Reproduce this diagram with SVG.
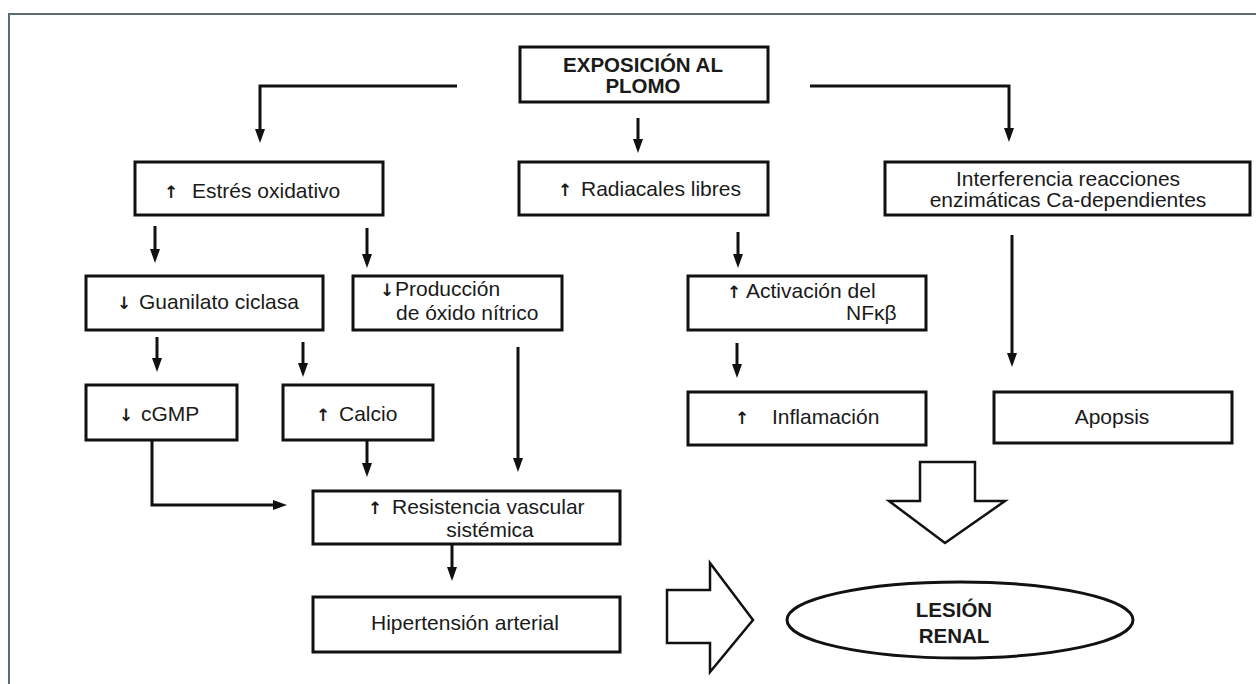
<svg xmlns="http://www.w3.org/2000/svg" width="1256" height="684" viewBox="0 0 1256 684">
<defs>
<style>
.box{fill:#fff;stroke:#111;stroke-width:3}
.t{font-family:"Liberation Sans",Arial,sans-serif;font-size:21px;fill:#1a1a1a}
.b{font-family:"Liberation Sans",Arial,sans-serif;font-size:20.5px;font-weight:bold;fill:#1a1a1a}
.c{text-anchor:middle}
.ar{font-family:"DejaVu Sans",sans-serif;font-size:17px;font-weight:bold;fill:#1a1a1a}
.con{fill:none;stroke:#111;stroke-width:3}
.blk{fill:#fff;stroke:#111;stroke-width:2.5;stroke-linejoin:miter}
</style>
<marker id="ah" viewBox="0 0 14 10" refX="8" refY="5" markerWidth="14" markerHeight="10" markerUnits="userSpaceOnUse" orient="auto">
<path d="M0,0 L14,5 L0,10 z" fill="#111"/>
</marker>
</defs>
<rect width="1256" height="684" fill="#fff"/>
<path d="M9,684 V14 H1256" fill="none" stroke="#5c6b72" stroke-width="2"/>

<g id="connectors">
<path class="con" d="M457,86 H260 V137" marker-end="url(#ah)"/>
<path class="con" d="M810,86 H1009 V136" marker-end="url(#ah)"/>
<path class="con" d="M638,118 V147" marker-end="url(#ah)"/>
<path class="con" d="M155,226 V257" marker-end="url(#ah)"/>
<path class="con" d="M367,228 V262" marker-end="url(#ah)"/>
<path class="con" d="M738,232 V262" marker-end="url(#ah)"/>
<path class="con" d="M1012,235 V361" marker-end="url(#ah)"/>
<path class="con" d="M157,337 V366" marker-end="url(#ah)"/>
<path class="con" d="M303,342 V371" marker-end="url(#ah)"/>
<path class="con" d="M518,347 V466" marker-end="url(#ah)"/>
<path class="con" d="M737,343 V372" marker-end="url(#ah)"/>
<path class="con" d="M152,440 V505 H281" marker-end="url(#ah)"/>
<path class="con" d="M367,440 V471" marker-end="url(#ah)"/>
<path class="con" d="M452,544 V575" marker-end="url(#ah)"/>
</g>

<g id="exposicion">
<rect class="box" x="520" y="47" width="248" height="55"/>
<text class="b c" x="643" y="72">EXPOSICIÓN AL</text>
<text class="b c" x="643" y="93">PLOMO</text>
</g>

<g id="estres">
<rect class="box" x="135" y="162" width="248" height="53"/>
<text class="t" x="164" y="198"><tspan class="ar">↑</tspan><tspan x="192">Estrés oxidativo</tspan></text>
</g>

<g id="radicales">
<rect class="box" x="519" y="162" width="249" height="53"/>
<text class="t" x="558" y="196"><tspan class="ar">↑</tspan><tspan x="581">Radiacales libres</tspan></text>
</g>

<g id="interferencia">
<rect class="box" x="885" y="162" width="365" height="53"/>
<text class="t c" x="1068" y="186">Interferencia reacciones</text>
<text class="t c" x="1068" y="207">enzimáticas Ca-dependientes</text>
</g>

<g id="guanilato">
<rect class="box" x="86" y="276" width="237" height="54"/>
<text class="t" x="117" y="309"><tspan class="ar">↓</tspan><tspan x="139">Guanilato ciclasa</tspan></text>
</g>

<g id="produccion">
<rect class="box" x="353" y="276" width="209" height="54"/>
<text class="t" x="380" y="296"><tspan class="ar">↓</tspan><tspan x="395">Producción</tspan></text>
<text class="t" x="396" y="320">de óxido nítrico</text>
</g>

<g id="cgmp">
<rect class="box" x="86" y="385" width="151" height="55"/>
<text class="t" x="119" y="421"><tspan class="ar">↓</tspan><tspan x="141">cGMP</tspan></text>
</g>

<g id="calcio">
<rect class="box" x="283" y="385" width="150" height="55"/>
<text class="t" x="316" y="421"><tspan class="ar">↑</tspan><tspan x="339">Calcio</tspan></text>
</g>

<g id="activacion">
<rect class="box" x="688" y="276" width="238" height="54"/>
<text class="t" x="727" y="298"><tspan class="ar">↑</tspan><tspan x="746">Activación del</tspan></text>
<text class="t" x="846" y="320">NFκβ</text>
</g>

<g id="inflamacion">
<rect class="box" x="688" y="392" width="238" height="53"/>
<text class="t" x="735" y="424"><tspan class="ar">↑</tspan><tspan x="772">Inflamación</tspan></text>
</g>

<g id="apopsis">
<rect class="box" x="994" y="392" width="238" height="51"/>
<text class="t c" x="1112" y="424">Apopsis</text>
</g>

<g id="resistencia">
<rect class="box" x="313" y="491" width="307" height="53"/>
<text class="t" x="368" y="514"><tspan class="ar">↑</tspan><tspan x="392">Resistencia vascular</tspan></text>
<text class="t c" x="490" y="537">sistémica</text>
</g>

<g id="hipertension">
<rect class="box" x="313" y="597" width="307" height="55"/>
<text class="t c" x="465" y="630">Hipertensión arterial</text>
</g>

<g id="flecha-derecha">
<polygon class="blk" points="667,590 710,590 710,563 753,620 710,672 710,643 667,643"/>
</g>

<g id="flecha-abajo">
<polygon class="blk" points="920,462 975,462 975,501 1005,501 945,543 889,501 920,501"/>
</g>

<g id="lesion">
<ellipse cx="960" cy="620" rx="173" ry="38" fill="#fff" stroke="#111" stroke-width="3"/>
<text class="b c" x="954" y="617">LESIÓN</text>
<text class="b c" x="954" y="643">RENAL</text>
</g>
</svg>
